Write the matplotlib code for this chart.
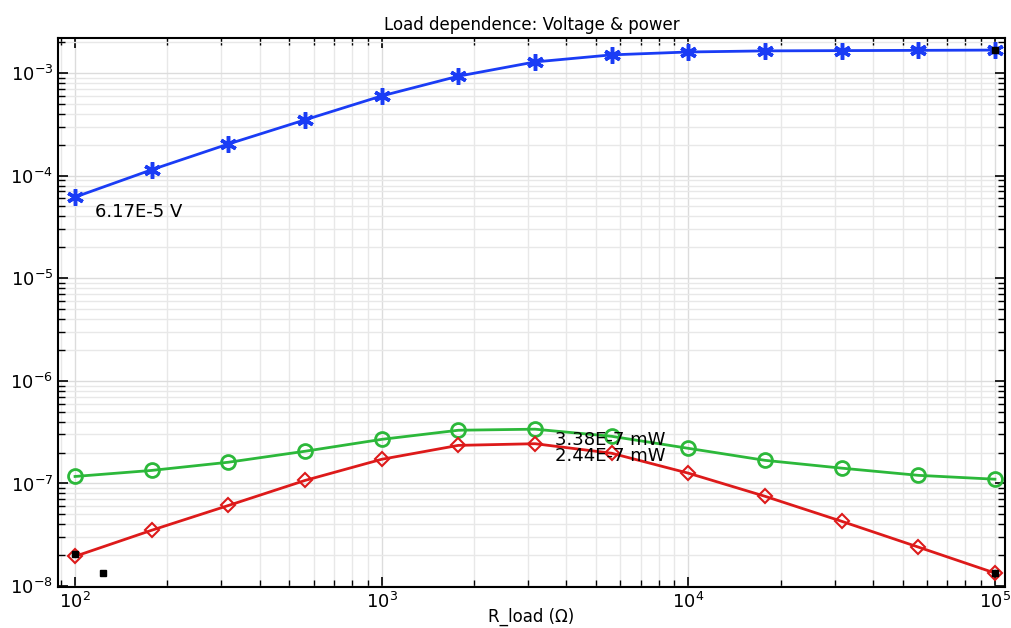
import numpy as np
import matplotlib.pyplot as plt

# load resistance sweep (ohm)
r_load = [100, 177.8, 316.2, 562.3, 1000, 1778, 3162, 5623, 10000, 17783, 31623, 56234, 100000]

# voltage (V)
voltage = [6.17e-5, 1.14e-4, 2.03e-4, 3.49e-4, 5.97e-4, 9.3e-4, 1.28e-3, 1.50e-3,
           1.60e-3, 1.64e-3, 1.65e-3, 1.66e-3, 1.67e-3]
# power curves (mW)
power_green = [1.17e-7, 1.34e-7, 1.61e-7, 2.06e-7, 2.69e-7, 3.30e-7, 3.38e-7, 2.88e-7,
               2.20e-7, 1.68e-7, 1.41e-7, 1.20e-7, 1.10e-7]
power_red = [1.95e-8, 3.5e-8, 6.1e-8, 1.07e-7, 1.72e-7, 2.35e-7, 2.44e-7, 1.97e-7,
             1.26e-7, 7.5e-8, 4.28e-8, 2.4e-8, 1.34e-8]

# black point markers
pts_x = [100, 123, 100000, 100000]
pts_y = [2.05e-8, 1.34e-8, 1.67e-3, 1.34e-8]

fig = plt.figure(figsize=(10.11, 6.28), dpi=100)
ax = fig.add_axes([0.0574, 0.0653, 0.9366, 0.8742])

ax.plot(r_load, voltage, color='#1a3cf5', lw=2, marker=(6, 2, 0), ms=12, mew=2.5)
ax.plot(r_load, power_green, color='#2cb83a', lw=2, marker='o', ms=10, mfc='none', mew=2)
ax.plot(r_load, power_red, color='#dd1a1a', lw=2, marker='D', ms=7, mfc='none', mew=1.5)
ax.plot(pts_x, pts_y, ls='none', marker='s', ms=4, color='black')

ax.set_xscale('log')
ax.set_yscale('log')
ax.set_xlim(88, 1.078e5)
ax.set_ylim(0.98e-8, 2.19e-3)

ax.grid(True, which='major', color='#dcdcdc', lw=1)
ax.grid(True, which='minor', color='#e8e8e8', lw=1)
ax.set_axisbelow(True)
ax.tick_params(which='both', direction='in', top=True, right=True, labelsize=13)
ax.tick_params(which='major', length=7, width=1.2)
ax.tick_params(which='minor', length=5, width=1)
for s in ax.spines.values():
    s.set_linewidth(1.5)

ax.text(116, 4.45e-5, '6.17E-5 V', fontsize=13, va='center')
ax.text(3670, 2.66e-7, '3.38E-7 mW', fontsize=13, va='center')
ax.text(3670, 1.84e-7, '2.44E-7 mW', fontsize=13, va='center')

ax.set_title('Load dependence: Voltage & power', fontsize=12)
ax.set_xlabel('R_load (Ω)', fontsize=12, labelpad=-3)

fig.savefig('out.png')
